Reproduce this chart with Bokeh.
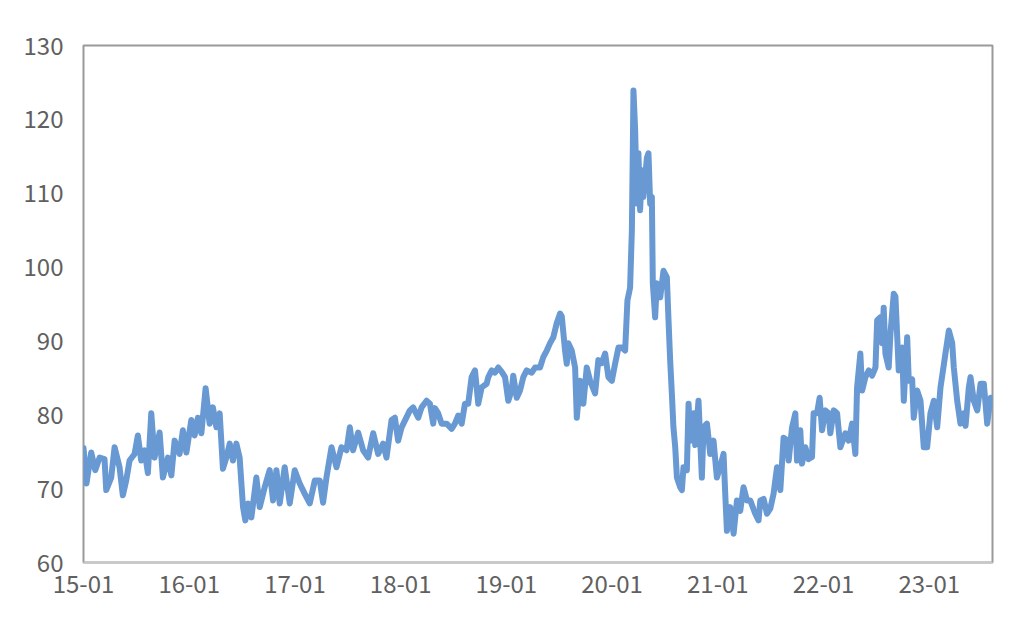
from bokeh.plotting import figure
from bokeh.models import Range1d, FixedTicker
from bokeh.embed import file_html
from bokeh.resources import INLINE

# time in years since 2015-01
t_a = [0.000, 0.028, 0.073, 0.111, 0.152, 0.199, 0.215, 0.262, 0.294, 0.341, 0.372, 0.404, 0.436, 0.483,
       0.514, 0.546, 0.578, 0.609, 0.641, 0.672, 0.720, 0.751, 0.798, 0.831, 0.862, 0.909, 0.940, 0.973,
       1.020, 1.051, 1.082, 1.115, 1.155, 1.193, 1.224, 1.257, 1.288, 1.319, 1.351, 1.383, 1.414, 1.446,
       1.477, 1.509, 1.531, 1.556, 1.588, 1.635, 1.667, 1.714, 1.761, 1.793, 1.825, 1.856, 1.903, 1.951,
       1.998, 2.045, 2.093, 2.140, 2.188, 2.235, 2.266, 2.298, 2.346, 2.393, 2.440, 2.488, 2.519, 2.550,
       2.598, 2.645, 2.692, 2.740, 2.787, 2.834, 2.866, 2.914, 2.945, 2.976]
v_a = [75.5, 70.7, 74.9, 72.5, 74.2, 74.0, 69.8, 71.5, 75.6, 72.9, 69.1, 71.1, 73.8, 74.7,
       77.2, 73.8, 75.2, 72.1, 80.2, 74.2, 77.6, 71.5, 74.2, 71.8, 76.5, 74.7, 77.9, 74.9,
       79.3, 77.2, 79.6, 77.5, 83.6, 78.8, 81.0, 78.3, 80.2, 72.7, 74.2, 76.1, 73.8, 76.1,
       74.2, 67.5, 65.7, 68.0, 66.1, 71.5, 67.5, 70.2, 72.5, 68.4, 72.5, 68.0, 72.9, 68.0,
       72.5, 70.7, 69.3, 68.0, 71.1, 71.1, 68.1, 71.5, 75.6, 72.9, 75.6, 75.2, 78.3, 75.2,
       77.6, 75.2, 74.2, 77.5, 74.7, 76.1, 74.2, 79.3, 79.6, 76.5]

t_b = [3.009, 3.087, 3.118, 3.166, 3.198, 3.245, 3.277, 3.308, 3.324, 3.355, 3.387, 3.435, 3.482, 3.513,
       3.545, 3.577, 3.608, 3.639, 3.671, 3.703, 3.734, 3.766, 3.813, 3.829, 3.861, 3.892, 3.923, 3.956,
       3.987, 4.018, 4.050, 4.065, 4.098, 4.129, 4.160, 4.192, 4.240, 4.271, 4.318, 4.349, 4.382, 4.413,
       4.444, 4.476, 4.508, 4.524, 4.555, 4.571, 4.586, 4.618, 4.650, 4.666, 4.697, 4.728, 4.760, 4.792,
       4.839, 4.870, 4.902, 4.934, 4.965, 4.997, 5.028, 5.060, 5.092, 5.123, 5.145, 5.170]
v_b = [78.3, 80.6, 81.0, 79.6, 81.0, 81.9, 81.5, 78.8, 80.9, 80.2, 78.8, 78.8, 78.1, 78.8,
       79.9, 78.8, 81.5, 81.5, 85.1, 86.0, 81.5, 83.7, 84.2, 85.1, 86.0, 85.7, 86.4, 85.8,
       85.1, 81.9, 83.3, 85.3, 82.3, 83.3, 85.1, 86.0, 85.7, 86.4, 86.4, 87.8, 88.7, 89.7,
       90.5, 92.4, 93.7, 93.3, 88.7, 86.9, 89.7, 88.7, 86.4, 79.6, 84.6, 81.5, 86.4, 84.6,
       82.9, 87.4, 87.0, 88.3, 85.1, 84.6, 86.9, 89.1, 89.1, 88.7, 95.5, 97.2]

t_c = [5.187, 5.202, 5.218, 5.234, 5.249, 5.265, 5.281, 5.296, 5.329, 5.344, 5.360, 5.376, 5.385, 5.407,
       5.423, 5.455, 5.486, 5.518, 5.533, 5.549, 5.565, 5.580, 5.597, 5.613, 5.644, 5.660, 5.675, 5.707,
       5.723, 5.739, 5.770, 5.786, 5.817, 5.849, 5.865, 5.897, 5.928, 5.959, 5.991, 6.023, 6.054, 6.070,
       6.086, 6.117, 6.149, 6.181, 6.212, 6.243, 6.276, 6.307, 6.354, 6.385]
v_c = [105.0, 123.9, 118.5, 108.6, 115.4, 107.7, 113.1, 109.5, 114.8, 115.4, 108.6, 109.5, 97.8, 93.2,
       97.8, 95.9, 99.5, 98.6, 93.0, 87.4, 82.9, 78.3, 75.6, 71.5, 70.2, 69.8, 72.9, 72.5,
       81.5, 76.5, 80.2, 75.9, 81.9, 71.5, 78.3, 78.8, 74.7, 76.5, 71.5, 73.0, 74.7, 69.3,
       64.3, 67.5, 63.9, 68.4, 67.0, 70.2, 68.4, 68.4, 66.6, 65.7]

t_d = [6.402, 6.433, 6.465, 6.496, 6.527, 6.560, 6.591, 6.622, 6.654, 6.670, 6.702, 6.733, 6.749, 6.780,
       6.796, 6.828, 6.859, 6.891, 6.906, 6.938, 6.963, 6.986, 7.017, 7.048, 7.064, 7.096, 7.128, 7.159,
       7.206, 7.238, 7.270, 7.301, 7.317, 7.348, 7.365, 7.396, 7.427, 7.459, 7.491, 7.507, 7.538, 7.554,
       7.569, 7.585, 7.616, 7.633, 7.664, 7.680, 7.711, 7.743, 7.759, 7.791, 7.806, 7.838, 7.853, 7.885,
       7.917, 7.948, 7.980, 8.011, 8.043, 8.075, 8.106, 8.153, 8.185, 8.217, 8.232, 8.264, 8.295, 8.327,
       8.343, 8.374, 8.390, 8.421, 8.454, 8.485, 8.516, 8.548, 8.580, 8.598]
v_d = [68.4, 68.6, 66.6, 67.3, 69.3, 72.9, 69.8, 76.9, 76.6, 73.8, 78.3, 80.2, 73.8, 77.9,
       73.4, 75.6, 74.0, 74.3, 80.2, 80.2, 82.3, 77.9, 80.6, 80.2, 77.5, 80.6, 80.2, 75.6,
       77.5, 76.5, 78.8, 74.7, 83.7, 88.3, 83.3, 85.1, 86.0, 85.3, 86.4, 92.8, 93.2, 89.7,
       94.5, 88.3, 86.4, 91.0, 96.4, 96.0, 86.0, 89.1, 81.9, 90.5, 84.6, 84.8, 79.6, 83.3,
       81.9, 75.6, 75.6, 80.2, 81.9, 78.3, 83.7, 88.3, 91.4, 89.7, 86.4, 81.9, 78.8, 80.2,
       78.5, 83.7, 85.1, 81.9, 80.6, 84.2, 84.2, 78.8, 82.3, 82.0]

t_all = t_a + t_b + t_c + t_d
v_all = v_a + v_b + v_c + v_d

tick_pos = [0, 1, 2, 3, 4, 5, 6, 7, 8]
tick_labels = ["15-01", "16-01", "17-01", "18-01", "19-01", "20-01", "21-01", "22-01", "23-01"]
y_ticks = [60, 70, 80, 90, 100, 110, 120, 130]

FONT = "Noto Sans CJK SC"
TXT = "#606060"

p = figure(width=1016, height=620, output_backend="svg", toolbar_location=None,
           x_range=Range1d(0, 8.598), y_range=Range1d(60, 130),
           min_border_left=83, min_border_right=24, min_border_top=45, min_border_bottom=58)

p.line(t_all, v_all, line_color="#6899D3", line_width=6, line_join="round", line_cap="round")

p.xgrid.visible = False
p.ygrid.visible = False
p.outline_line_color = "#9a9a9a"
p.outline_line_width = 2

p.xaxis.ticker = FixedTicker(ticks=tick_pos)
p.xaxis.major_label_overrides = {k: lab for k, lab in zip(tick_pos, tick_labels)}
p.yaxis.ticker = FixedTicker(ticks=y_ticks)

for ax in (p.xaxis, p.yaxis):
    ax.axis_line_color = None
    ax.major_tick_line_color = None
    ax.minor_tick_line_color = None
    ax.major_tick_out = 0
    ax.major_tick_in = 0
    ax.major_label_text_font = FONT
    ax.major_label_text_font_size = "24px"
    ax.major_label_text_color = TXT

p.xaxis.axis_line_color = "#c8c8c8"
p.xaxis.axis_line_width = 2
p.yaxis.major_label_standoff = 20
p.xaxis.major_label_standoff = 12

open("out.html", "w").write(file_html(p, INLINE))
